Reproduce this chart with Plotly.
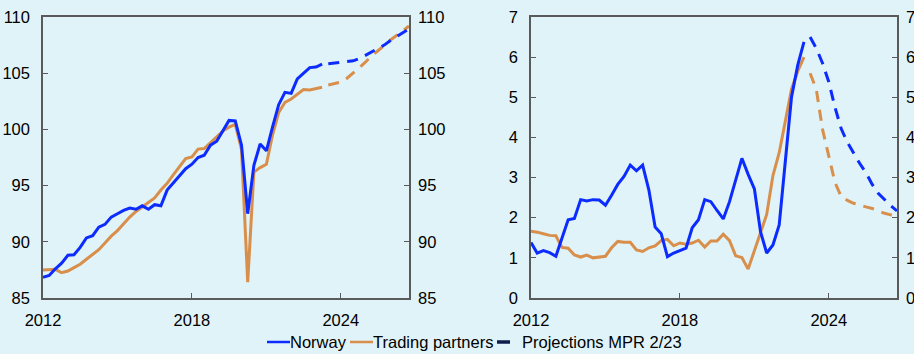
import pandas as pd
import plotly.graph_objects as go

# Quarterly timeline 2012Q1-2026Q4
quarters = pd.period_range("2012Q1", "2026Q4", freq="Q").to_timestamp()

# Left panel: GDP level, index
gdp_norway = [86.85, 87.0, 87.6, 88.1, 88.8, 88.85, 89.5, 90.35,
              90.55, 91.3, 91.55, 92.2, 92.5, 92.8, 93.0, 92.9,
              93.2, 92.9, 93.3, 93.2, 94.6, 95.2, 95.9, 96.5,
              96.9, 97.5, 97.7, 98.6, 98.95, 99.9, 100.8, 100.75,
              98.6, 92.5, 96.8, 98.7, 98.1, 100.2, 102.2, 103.3,
              103.2, 104.5, 105.0, 105.5, 105.55, 105.8]
gdp_norway_proj = [105.85, 105.9, 105.95, 106.0, 106.1, 106.3, 106.6,
                   106.9, 107.2, 107.5, 107.9, 108.25, 108.6, 108.95]
gdp_partners = [87.5, 87.5, 87.55, 87.25, 87.4, 87.7, 88.0, 88.45,
                88.85, 89.3, 89.9, 90.5, 91.0, 91.6, 92.2, 92.7,
                93.1, 93.5, 93.9, 94.6, 95.2, 95.95, 96.7, 97.4,
                97.55, 98.25, 98.3, 98.85, 99.4, 99.85, 100.2, 100.45,
                98.2, 86.4, 96.2, 96.6, 96.9, 99.5, 101.5, 102.4,
                102.7, 103.1, 103.55, 103.5, 103.65, 103.75]
gdp_partners_proj = [103.95, 104.05, 104.2, 104.55, 105.0, 105.5, 106.0,
                     106.55, 107.0, 107.5, 107.95, 108.35, 108.8, 109.2]

# Right panel: consumer price inflation, percent
cpi_norway = [1.38, 1.12, 1.18, 1.13, 1.04, 1.5, 1.95, 1.98,
              2.45, 2.42, 2.45, 2.44, 2.31, 2.56, 2.83, 3.03,
              3.31, 3.17, 3.31, 2.69, 1.77, 1.6, 1.03, 1.12,
              1.19, 1.24, 1.75, 1.95, 2.45, 2.4, 2.18, 1.97,
              2.4, 2.95, 3.48, 3.08, 2.72, 1.65, 1.12, 1.32,
              1.82, 3.4, 5.0, 5.8, 6.38]
cpi_norway_proj = [6.5, 6.22, 5.85, 5.38, 4.75, 4.22, 3.88, 3.6,
                   3.35, 3.12, 2.83, 2.6, 2.44, 2.3, 2.17]
cpi_partners = [1.66, 1.64, 1.6, 1.56, 1.55, 1.26, 1.24, 1.07,
                1.02, 1.07, 1.0, 1.02, 1.04, 1.25, 1.41, 1.39,
                1.39, 1.2, 1.16, 1.25, 1.3, 1.43, 1.46, 1.3,
                1.37, 1.34, 1.37, 1.44, 1.27, 1.42, 1.42, 1.59,
                1.43, 1.05, 1.01, 0.72, 1.17, 1.6, 2.08, 3.05,
                3.62, 4.4, 5.2, 5.65, 6.0]
cpi_partners_proj = [5.6, 5.2, 4.2, 3.5, 2.88, 2.53, 2.43, 2.36,
                     2.31, 2.27, 2.23, 2.16, 2.11, 2.07, 2.02]

year_ticks = ["2012", "2018", "2024"]
legend_labels = ["Norway", "Trading partners", "Projections MPR 2/23"]

BLUE = "#0b2bff"
ORANGE = "#d98f4c"
NAVY = "#0d1c4a"
BG = "#e0f3f8"
AXIS = "#5a5a5a"
FONT = "Liberation Sans, Arial, sans-serif"

W, H = 914, 354
PLOT_TOP, PLOT_BOTTOM = 17, 298


def span(values, start):
    return quarters[start:start + len(values)]


fig = go.Figure()

panels = [
    ("x", "y", gdp_norway, gdp_norway_proj, gdp_partners, gdp_partners_proj),
    ("x2", "y2", cpi_norway, cpi_norway_proj, cpi_partners, cpi_partners_proj),
]
for xa, ya, nor, nor_p, tp, tp_p in panels:
    fig.add_trace(go.Scatter(x=span(tp, 0), y=tp, xaxis=xa, yaxis=ya, mode="lines",
                             line=dict(color=ORANGE, width=3), name=legend_labels[1],
                             showlegend=False, hoverinfo="skip"))
    fig.add_trace(go.Scatter(x=span(tp_p, len(tp)), y=tp_p, xaxis=xa, yaxis=ya,
                             mode="lines", line=dict(color=ORANGE, width=3, dash="11px,8px"),
                             showlegend=False, hoverinfo="skip"))
    fig.add_trace(go.Scatter(x=span(nor, 0), y=nor, xaxis=xa, yaxis=ya, mode="lines",
                             line=dict(color=BLUE, width=3), name=legend_labels[0],
                             showlegend=False, hoverinfo="skip"))
    fig.add_trace(go.Scatter(x=span(nor_p, len(nor)), y=nor_p, xaxis=xa, yaxis=ya,
                             mode="lines", line=dict(color=BLUE, width=3, dash="11px,8px"),
                             showlegend=False, hoverinfo="skip"))

# Right-hand duplicate value axes
fig.add_trace(go.Scatter(x=[None], y=[None], xaxis="x", yaxis="y3", showlegend=False))
fig.add_trace(go.Scatter(x=[None], y=[None], xaxis="x2", yaxis="y4", showlegend=False))

tick_dates = [pd.Timestamp(f"{y}-01-01") for y in year_ticks]
xcommon = dict(type="date", range=[quarters[0], quarters[-1]], tickvals=tick_dates,
               ticktext=year_ticks, ticks="inside", ticklen=5, tickcolor=AXIS,
               showline=True, linecolor=AXIS, linewidth=1.5, mirror=True,
               showgrid=False, zeroline=False, ticklabelstandoff=6, automargin=False,
               tickfont=dict(size=16.5, color="#000", family=FONT))
ycommon = dict(ticks="inside", ticklen=5, tickcolor=AXIS, showline=True,
               linecolor=AXIS, linewidth=1.5, showgrid=False, zeroline=False,
               ticklabelstandoff=8, automargin=False,
               tickfont=dict(size=16.5, color="#000", family=FONT))

left = [43 / W, 409 / W]
right = [531 / W, 897 / W]

# Compact legend row under the panels: (key start, key end, text start) in px
legend_y = (PLOT_BOTTOM - 342) / (PLOT_BOTTOM - PLOT_TOP)
legend_keys = [
    (267, 290, 289, dict(color=BLUE, width=2.5)),
    (350, 373, 372, dict(color=ORANGE, width=2.5)),
    (497, 510, 521, dict(color=NAVY, width=3.5)),
]
shapes, annotations = [], []
for (x0, x1, tx, line), label in zip(legend_keys, legend_labels):
    shapes.append(dict(type="line", xref="paper", yref="paper",
                       x0=x0 / W, x1=x1 / W, y0=legend_y, y1=legend_y, line=line))
    annotations.append(dict(xref="paper", yref="paper", x=tx / W, y=legend_y,
                            xanchor="left", yanchor="middle", text=label,
                            showarrow=False, borderpad=0,
                            font=dict(size=16.5, color="#000", family=FONT)))

fig.update_layout(
    width=W, height=H, autosize=False,
    margin=dict(l=0, r=0, t=PLOT_TOP, b=H - PLOT_BOTTOM, pad=0, autoexpand=False),
    paper_bgcolor=BG, plot_bgcolor=BG,
    font=dict(family=FONT, size=16, color="#000"),
    xaxis=dict(domain=left, anchor="y", **xcommon),
    xaxis2=dict(domain=right, anchor="y2", **xcommon),
    yaxis=dict(anchor="x", range=[85, 110], dtick=5, mirror=True, **ycommon),
    yaxis2=dict(anchor="x2", range=[0, 7], dtick=1, mirror=True, **ycommon),
    yaxis3=dict(anchor="x", overlaying="y", side="right", range=[85, 110], dtick=5,
                **{**ycommon, "showline": False}),
    yaxis4=dict(anchor="x2", overlaying="y2", side="right", range=[0, 7], dtick=1,
                **{**ycommon, "showline": False}),
    shapes=shapes,
    annotations=annotations,
    showlegend=False,
)

fig.write_html("out.html")
